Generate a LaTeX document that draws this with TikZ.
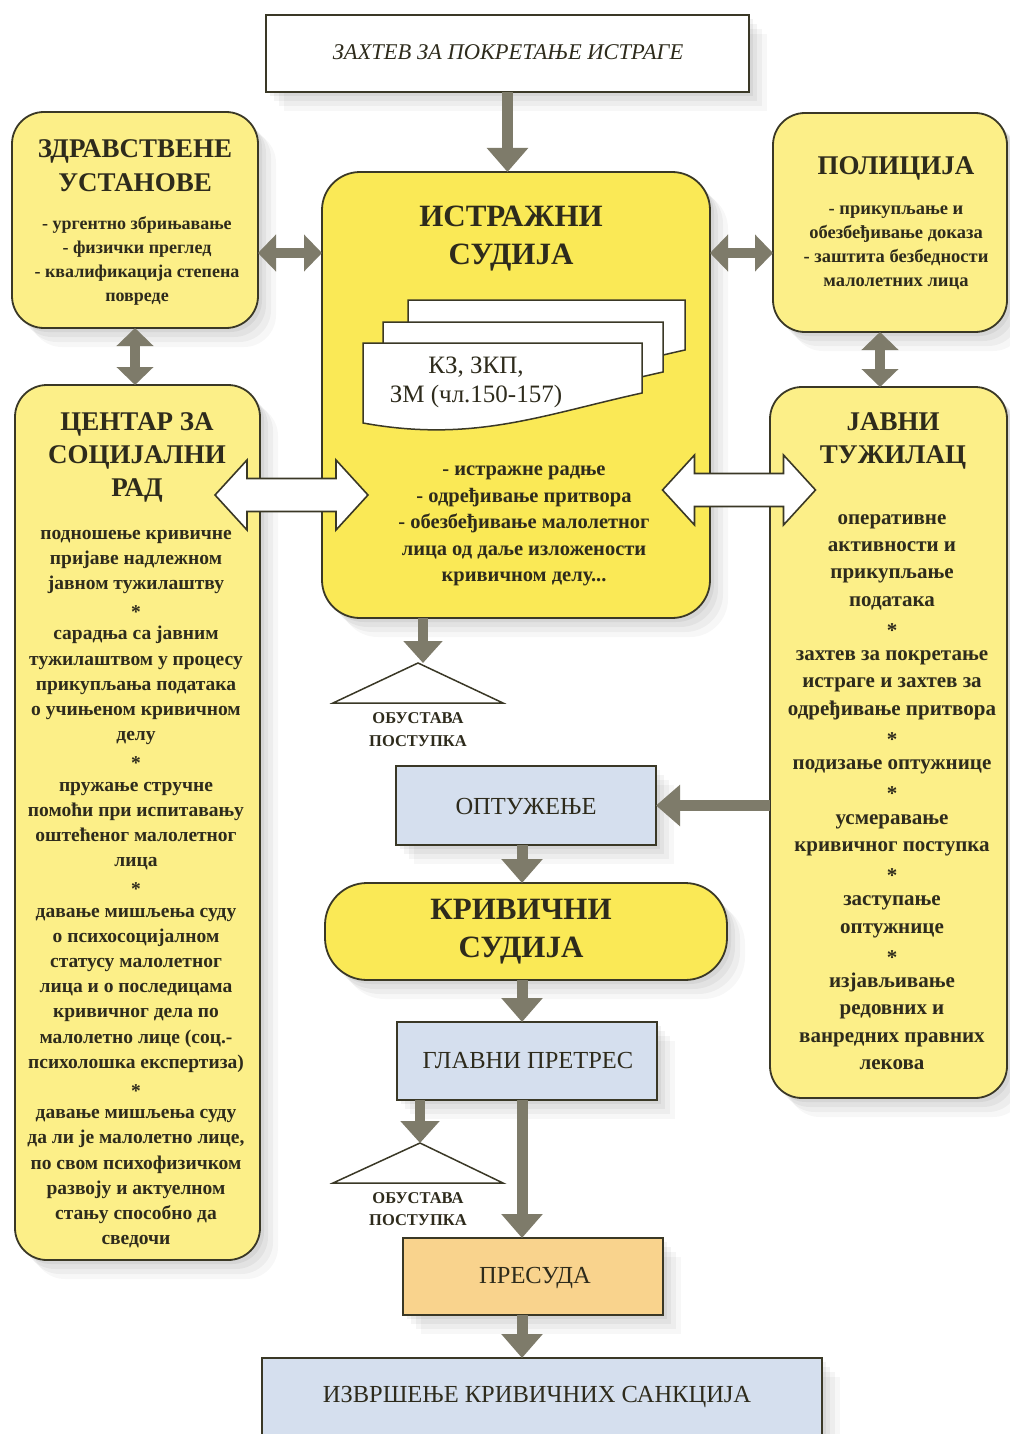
\documentclass[tikz,border=0pt]{standalone}
\usepackage{fontspec}
\setmainfont{Liberation Serif}
\usetikzlibrary{arrows.meta,shadows,calc}
\definecolor{ylw}{HTML}{FCEF88}
\definecolor{ylwc}{HTML}{FAE956}
\definecolor{bluebox}{HTML}{D5DFEE}
\definecolor{orng}{HTML}{F9D38D}
\definecolor{gr}{HTML}{7E7B6A}
\definecolor{bd}{HTML}{3A3826}
\definecolor{txt}{HTML}{2E2B1C}
\newcommand{\stt}{\raisebox{-4pt}{*}}
\begin{document}
\begin{tikzpicture}[x=1pt,y=-1pt,
  every node/.style={text=txt, inner sep=0pt, outer sep=0pt},
  soft/.style={general shadow={fill=black,opacity=0.05,shadow xshift=4pt,shadow yshift=-4pt},
               general shadow={fill=black,opacity=0.045,shadow xshift=8pt,shadow yshift=-9pt},
               general shadow={fill=black,opacity=0.04,shadow xshift=13pt,shadow yshift=-14pt},
               general shadow={fill=black,opacity=0.03,shadow xshift=18pt,shadow yshift=-19pt}},
  ybox/.style={draw=bd, line width=1.8pt, fill=ylw, rounded corners=32pt, soft},
  cbox/.style={draw=bd, line width=1.8pt, fill=ylwc, rounded corners=38pt, soft},
  sbox/.style={draw=bd, line width=1.6pt, fill=#1, soft},
  title/.style={align=center, font=\bfseries\fontsize{27}{34}\selectfont},
  btitle/.style={align=center, font=\bfseries\fontsize{31}{38}\selectfont},
  body/.style={align=center},
  lab/.style={align=center, font=\fontsize{24.5}{28}\selectfont},
  small/.style={align=center, font=\bfseries\fontsize{16.5}{22.5}\selectfont},
  garrow/.style={draw=gr, line width=11pt, -{Triangle[width=40pt,length=24pt]}},
  gdarrow/.style={draw=gr, line width=10pt, {Triangle[width=36pt,length=18pt]}-{Triangle[width=36pt,length=18pt]}},
  warrow/.style={draw=bd, line width=1.6pt, fill=white, line join=miter},
  tri/.style={draw=bd, line width=1.5pt, fill=white},
  doc/.style={draw=bd, line width=1.5pt, fill=white}
]
\useasboundingbox (0,0) rectangle (1009,1434);
\fill[white] (0,0) rectangle (1009,1434);

% boxes
\node[sbox=white, minimum width=483pt, minimum height=77pt] (zahtev) at (507.5,53.5) {};
\node[ybox, minimum width=246pt, minimum height=216pt] (zdr) at (135,220) {};
\node[cbox, minimum width=388pt, minimum height=446pt] (ist) at (516,395) {};
\node[ybox, minimum width=234pt, minimum height=219pt] (pol) at (890,222.5) {};
\node[ybox, minimum width=245pt, minimum height=875pt] (csr) at (137.5,822.5) {};
\node[ybox, minimum width=237pt, minimum height=711pt] (jt) at (888.5,742.5) {};
\node[sbox=bluebox, minimum width=260pt, minimum height=79pt] (opt) at (526,805.5) {};
\node[cbox, rounded corners=42pt, minimum width=402pt, minimum height=97pt] (ks) at (526,931.5) {};
\node[sbox=bluebox, minimum width=260pt, minimum height=78pt] (gp) at (527,1061) {};
\node[sbox=orng, minimum width=260pt, minimum height=77pt] (pres) at (533,1276.5) {};
\node[sbox=bluebox, minimum width=560pt, minimum height=90pt] (izv) at (542,1403) {};

% documents
\draw[doc] (408,300) -- (685,300) -- (685,350) .. controls (585,372) and (518,400) .. (408,380) -- cycle;
\draw[doc] (383,322) -- (663,322) -- (663,372) .. controls (563,394) and (493,422) .. (383,402) -- cycle;
\draw[doc] (363,343) -- (642,343) -- (642,393) .. controls (542,415) and (473,443) .. (363,423) -- cycle;
\node[align=center, font=\fontsize{25}{29}\selectfont] (kz) at (476,382) {КЗ, ЗКП,\\ЗМ (чл.150-157)};

% texts
\node[font=\itshape\fontsize{22.5}{26}\selectfont] (zahtevT) at (508,52) {ЗАХТЕВ ЗА ПОКРЕТАЊЕ ИСТРАГЕ};
\node[title] (zdrT) at (135,165.5) {ЗДРАВСТВЕНЕ\\УСТАНОВЕ};
\node[body, font=\bfseries\fontsize{18}{24}\selectfont] (zdrB) at (137,261) {- ургентно збрињавање\\- физички преглед\\- квалификација степена\\повреде};
\node[btitle] (istT) at (511,239) {ИСТРАЖНИ\\СУДИЈА};
\node[body, font=\bfseries\fontsize{20.5}{26.5}\selectfont] (istB) at (524,526) {- истражне радње\\- одређивање притвора\\- обезбеђивање малолетног\\лица од даље изложености\\кривичном делу...};
\node[title] (polT) at (896,168) {ПОЛИЦИЈА};
\node[body, font=\bfseries\fontsize{18.5}{24}\selectfont] (polB) at (896,248) {- прикупљање и\\обезбеђивање доказа\\- заштита безбедности\\малолетних лица};
\node[title, font=\bfseries\fontsize{27}{33}\selectfont] (csrT) at (137,457) {ЦЕНТАР ЗА\\СОЦИЈАЛНИ\\РАД};
\node[body, font=\bfseries\fontsize{19.5}{25.2}\selectfont] (csrB) at (136,889) {подношење кривичне\\пријаве надлежном\\јавном тужилаштву\\\stt\\сарадња са јавним\\тужилаштвом у процесу\\прикупљања података\\о учињеном кривичном\\делу\\\stt\\пружање стручне\\помоћи при испитавању\\оштећеног малолетног\\лица\\\stt\\давање мишљења суду\\о психосоцијалном\\статусу малолетног\\лица и о последицама\\кривичног дела по\\малолетно лице (соц.-\\психолошка експертиза)\\\stt\\давање мишљења суду\\да ли је малолетно лице,\\по свом психофизичком\\развоју и актуелном\\стању способно да\\сведочи};
\node[title, font=\bfseries\fontsize{27}{33}\selectfont] (jtT) at (893,440.5) {ЈАВНИ\\ТУЖИЛАЦ};
\node[body, font=\bfseries\fontsize{21}{27.25}\selectfont] (jtB) at (892,792) {оперативне\\активности и\\прикупљање\\података\\\stt\\захтев за покретање\\истраге и захтев за\\одређивање притвора\\\stt\\подизање оптужнице\\\stt\\усмеравање\\кривичног поступка\\\stt\\заступање\\оптужнице\\\stt\\изјављивање\\редовних и\\ванредних правних\\лекова};
\node[lab] (optT) at (526,806) {ОПТУЖЕЊЕ};
\node[btitle] (ksT) at (521,931.5) {КРИВИЧНИ\\СУДИЈА};
\node[lab] (gpT) at (528,1060) {ГЛАВНИ ПРЕТРЕС};
\node[lab] (presT) at (535,1278) {ПРЕСУДА};
\node[lab] (izvT) at (537,1397) {ИЗВРШЕЊЕ КРИВИЧНИХ САНКЦИЈА};

% triangles
\coordinate (t1) at (418,663);
\coordinate (t2) at (420,1143);
\draw[tri] (t1) -- ++(-85,40) -- ++(170,0) -- cycle;
\draw[tri] (t2) -- ++(-87,40) -- ++(170,0) -- cycle;
\node[small] (ob1) at (418,729.5) {ОБУСТАВА\\ПОСТУПКА};
\node[small] (ob2) at (418,1209) {ОБУСТАВА\\ПОСТУПКА};

% gray arrows
\coordinate (h1) at (0,253);
\coordinate (col) at (522,0);
\draw[garrow] (zahtev.south) -- (zahtev.south |- ist.north);
\draw[gdarrow] (zdr.east |- h1) -- (ist.west |- h1);
\draw[gdarrow] (ist.east |- h1) -- (pol.west |- h1);
\draw[gdarrow] (zdr.south) -- (zdr.south |- csr.north);
\draw[gdarrow] ([xshift=-10pt]pol.south) -- ([xshift=-10pt]pol.south |- jt.north);
\draw[garrow, line width=10pt, -{Triangle[width=38pt,length=22pt]}] ([xshift=5pt]t1 |- ist.south) -- ([xshift=5pt]t1);
\draw[garrow] (jt.west |- opt.east) -- (opt.east);
\draw[garrow] (opt.south -| col) -- (ks.north -| col);
\draw[garrow] (ks.south -| col) -- (gp.north -| col);
\draw[garrow, line width=10pt, -{Triangle[width=38pt,length=22pt]}] (t2 |- gp.south) -- (t2);
\draw[garrow] (gp.south -| col) -- (pres.north -| col);
\draw[garrow] (pres.south -| col) -- (izv.north -| col);

% white double arrows
\coordinate (w1) at (291.5,495);
\coordinate (w2) at (739,490);
\draw[warrow, shift={(w1)}] (-76.5,0) -- (-44.5,-35) -- (-44.5,-16.5) -- (44.5,-16.5) -- (44.5,-35) -- (76.5,0) -- (44.5,35) -- (44.5,16.5) -- (-44.5,16.5) -- (-44.5,35) -- cycle;
\draw[warrow, shift={(w2)}] (-76.5,0) -- (-44.5,-35) -- (-44.5,-16.5) -- (44.5,-16.5) -- (44.5,-35) -- (76.5,0) -- (44.5,35) -- (44.5,16.5) -- (-44.5,16.5) -- (-44.5,35) -- cycle;
\end{tikzpicture}
\end{document}
